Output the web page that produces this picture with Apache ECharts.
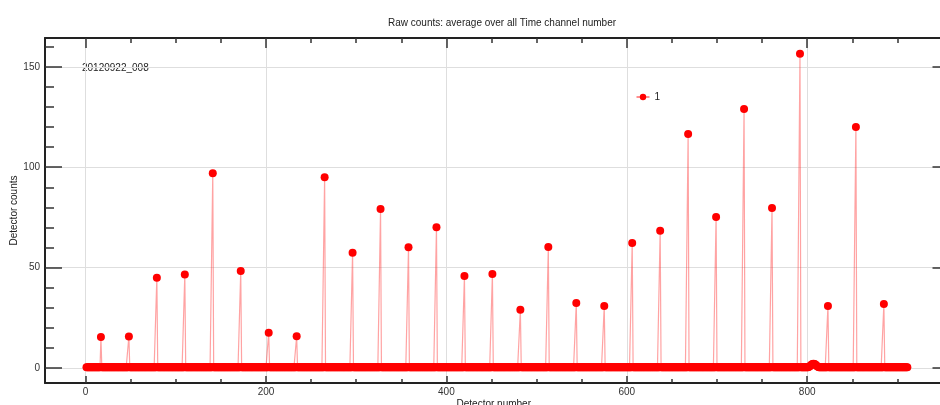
<!DOCTYPE html>
<html><head><meta charset="utf-8">
<script src="https://cdn.jsdelivr.net/npm/echarts@6/dist/echarts.min.js"></script>
<style>html,body{margin:0;padding:0;background:#fff}#c{width:940px;height:405px}</style>
</head><body><div id="c"></div>
<script>
const chartTitle = 'Raw counts: average over all Time channel number';
const runLabel = '20120922_008';
const seriesName = '1';
const xAxisName = 'Detector number';
const yAxisName = 'Detector counts';
const firstDetector = 1;
const lastDetector = 911;
const baselineCount = 0.3;
const peakDetectors = [17,48,79,110,141,172,203,234,265,296,327,358,389,420,451,482,513,544,575,606,637,668,699,730,761,792,823,854,885];
const peakCounts = [15.4,15.7,45,46.6,97,48.3,17.5,15.8,95,57.4,79.2,60.1,70.1,45.8,46.8,29,60.3,32.4,30.9,62.3,68.3,116.6,75.2,129,79.7,156.5,30.9,120.1,31.9];
const bumpDetectors = [802,803,804,805,806,807,808,809,810,811,812];
const bumpCounts = [0.6,0.9,1.3,1.7,2.0,2.1,2.0,1.7,1.3,0.9,0.6];
const xMajorTicks = [0,200,400,600,800];
const xMinorTicks = [50,100,150,250,300,350,450,500,550,650,700,750,850,900];
const yMajorTicks = [0,50,100,150];
const yMinorTicks = [10,20,30,40,60,70,80,90,110,120,130,140,160];

const valueAt = {};
for (let d = firstDetector; d <= lastDetector; d++) valueAt[d] = baselineCount;
bumpDetectors.forEach((d, i) => { valueAt[d] = bumpCounts[i]; });
peakDetectors.forEach((d, i) => { valueAt[d] = peakCounts[i]; });
const seriesData = [];
for (let d = firstDetector; d <= lastDetector; d++) seriesData.push([d, valueAt[d]]);

const FONT = 'Liberation Sans';
const axisColor = '#222';
const tickColor = '#333';
const gridColor = '#dedede';
const X_MIN = -45, X_MAX = 950, Y_MIN = -7.5, Y_MAX = 164.4;

function xAx(pos, ticks, len, showLine, labels, split, name) {
  return {
    type: 'value', position: pos, min: X_MIN, max: X_MAX,
    axisLine: { show: showLine, onZero: false, lineStyle: { color: axisColor, width: 2 } },
    axisTick: { show: true, inside: true, length: len, customValues: ticks, lineStyle: { color: tickColor, width: 1.5 } },
    axisLabel: { show: labels, customValues: ticks, color: '#333', fontSize: 10, margin: 4, fontFamily: FONT },
    splitLine: { show: split, lineStyle: { color: gridColor, width: 1 } },
    name: name || '', nameLocation: 'middle', nameGap: 16, nameMoveOverlap: false,
    nameTextStyle: { color: '#222', fontSize: 10, fontFamily: FONT }
  };
}
function yAx(pos, ticks, len, showLine, labels, split, name) {
  return {
    type: 'value', position: pos, min: Y_MIN, max: Y_MAX,
    axisLine: { show: showLine, onZero: false, lineStyle: { color: axisColor, width: 2 } },
    axisTick: { show: true, inside: true, length: len, customValues: ticks, lineStyle: { color: tickColor, width: 1.5 } },
    axisLabel: { show: labels, customValues: ticks, color: '#333', fontSize: 10, margin: 5, fontFamily: FONT },
    splitLine: { show: split, lineStyle: { color: gridColor, width: 1 } },
    name: name || '', nameLocation: 'middle', nameGap: 26, nameMoveOverlap: false,
    nameTextStyle: { color: '#222', fontSize: 10, fontFamily: FONT }
  };
}

const chart = echarts.init(document.getElementById('c'), null, { renderer: 'canvas' });
chart.setOption({
  animation: false,
  backgroundColor: '#fff',
  textStyle: { fontFamily: FONT },
  title: { text: chartTitle, left: 383, top: 13, textStyle: { fontSize: 10, fontWeight: 'normal', color: '#222', fontFamily: FONT } },
  legend: { data: [seriesName], left: 636, top: 92, padding: 0, itemWidth: 13, itemHeight: 8,
    lineStyle: { color: '#ff2020', width: 1 },
    textStyle: { fontSize: 10, color: '#222', fontFamily: FONT } },
  grid: { left: 45, top: 38, right: -2.5, bottom: 22, containLabel: false, outerBoundsMode: 'none' },
  graphic: [{ type: 'text', left: 82, top: 63, style: { text: runLabel, font: '10px "Liberation Sans"', fill: '#222' } }],
  xAxis: [
    xAx('bottom', xMajorTicks, 7, true, true, true, xAxisName),
    xAx('bottom', xMinorTicks, 4, false, false, false),
    xAx('top', xMajorTicks, 10, true, false, false),
    xAx('top', xMinorTicks, 5, false, false, false)
  ],
  yAxis: [
    yAx('left', yMajorTicks, 17, true, true, true, yAxisName),
    yAx('left', yMinorTicks, 9, false, false, false),
    yAx('right', yMajorTicks, 10, true, false, false)
  ],
  series: [{
    name: seriesName, type: 'line', xAxisIndex: 0, yAxisIndex: 0,
    data: seriesData, symbol: 'circle', symbolSize: 8, showSymbol: true,
    itemStyle: { color: '#ff0000' },
    lineStyle: { color: 'rgba(255,50,50,0.45)', width: 1.2 },
    emphasis: { disabled: true }
  }]
});
</script></body></html>
